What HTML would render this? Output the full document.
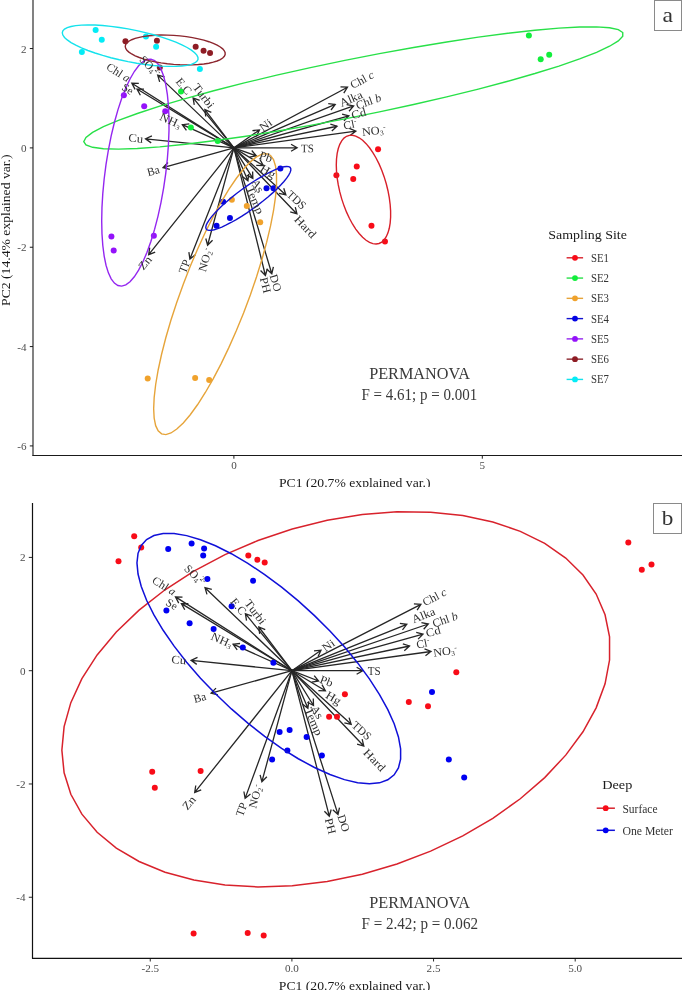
<!DOCTYPE html>
<html><head><meta charset="utf-8"><title>PCA biplots</title>
<style>html,body{margin:0;padding:0;background:#fff;}body{width:685px;height:990px;overflow:hidden;}svg{display:block;will-change:transform;}</style>
</head><body>
<svg width="685" height="990" viewBox="0 0 685 990" font-family="&quot;Liberation Serif&quot;, serif">
<rect width="685" height="990" fill="#ffffff"/>
<g fill="none" stroke="#262626" stroke-width="1.30"><path d="M233.90,147.90 L297.10,147.80 M291.03,144.31 L297.10,147.80 L291.04,151.31"/><path d="M233.90,147.90 L355.86,131.06 M349.38,128.42 L355.86,131.06 L350.34,135.36"/><path d="M233.90,147.90 L256.30,155.80 M251.75,150.48 L256.30,155.80 L249.42,157.08"/><path d="M233.90,147.90 L263.27,165.53 M259.88,159.41 L263.27,165.53 L256.27,165.41"/><path d="M233.90,147.90 L252.84,178.42 M252.62,171.42 L252.84,178.42 L246.67,175.11"/><path d="M233.90,147.90 L247.93,180.79 M248.77,173.84 L247.93,180.79 L242.33,176.58"/><path d="M233.90,147.90 L285.89,194.90 M283.74,188.24 L285.89,194.90 L279.05,193.44"/><path d="M233.90,147.90 L296.94,213.93 M295.29,207.13 L296.94,213.93 L290.22,211.97"/><path d="M233.90,147.90 L271.80,273.70 M273.40,266.89 L271.80,273.70 L266.70,268.91"/><path d="M233.90,147.90 L265.40,275.50 M267.35,268.78 L265.40,275.50 L260.55,270.45"/><path d="M233.90,147.90 L207.60,245.24 M212.56,240.30 L207.60,245.24 L205.80,238.48"/><path d="M233.90,147.90 L189.90,259.00 M195.39,254.65 L189.90,259.00 L188.88,252.07"/><path d="M233.90,147.90 L148.67,254.62 M155.19,252.07 L148.67,254.62 L149.72,247.70"/><path d="M233.90,147.90 L163.05,167.54 M169.83,169.30 L163.05,167.54 L167.96,162.55"/><path d="M233.90,147.90 L145.52,138.78 M151.19,142.88 L145.52,138.78 L151.91,135.92"/><path d="M233.90,147.90 L182.34,124.66 M186.43,130.34 L182.34,124.66 L189.31,123.96"/><path d="M233.90,147.90 L204.88,109.58 M205.75,116.52 L204.88,109.58 L211.33,112.30"/><path d="M233.90,147.90 L193.13,97.91 M194.25,104.82 L193.13,97.91 L199.67,100.40"/><path d="M233.90,147.90 L157.71,75.11 M159.67,81.83 L157.71,75.11 L164.51,76.77"/><path d="M233.90,147.90 L131.84,83.18 M135.08,89.38 L131.84,83.18 L138.83,83.47"/><path d="M233.90,147.90 L137.01,89.06 M140.38,95.20 L137.01,89.06 L144.01,89.21"/><path d="M233.90,147.90 L259.42,129.92 M252.44,130.55 L259.42,129.92 L256.48,136.28"/><path d="M233.90,147.90 L347.50,87.20 M340.50,86.97 L347.50,87.20 L343.80,93.14"/><path d="M233.90,147.90 L335.20,104.40 M328.25,103.58 L335.20,104.40 L331.01,110.01"/><path d="M233.90,147.90 L353.60,105.90 M346.72,104.60 L353.60,105.90 L349.04,111.21"/><path d="M233.90,147.90 L348.85,115.80 M342.07,114.06 L348.85,115.80 L343.95,120.81"/><path d="M233.90,147.90 L337.01,126.24 M330.36,124.06 L337.01,126.24 L331.80,130.91"/></g>
<circle cx="336.40" cy="175.26" r="3.00" fill="#f80c18"/><circle cx="378.05" cy="149.22" r="3.00" fill="#f80c18"/><circle cx="353.23" cy="179.12" r="3.00" fill="#f80c18"/><circle cx="356.74" cy="166.49" r="3.00" fill="#f80c18"/><circle cx="371.47" cy="225.86" r="3.00" fill="#f80c18"/><circle cx="384.97" cy="241.56" r="3.00" fill="#f80c18"/>
<circle cx="528.86" cy="35.56" r="3.00" fill="#12ee3c"/><circle cx="549.20" cy="54.68" r="3.00" fill="#12ee3c"/><circle cx="540.70" cy="59.33" r="3.00" fill="#12ee3c"/><circle cx="181.03" cy="91.42" r="3.00" fill="#12ee3c"/><circle cx="190.85" cy="127.47" r="3.00" fill="#12ee3c"/><circle cx="217.68" cy="140.88" r="3.00" fill="#12ee3c"/>
<circle cx="147.71" cy="378.45" r="3.00" fill="#f0a22c"/><circle cx="195.15" cy="377.92" r="3.00" fill="#f0a22c"/><circle cx="209.17" cy="380.03" r="3.00" fill="#f0a22c"/><circle cx="231.88" cy="199.81" r="3.00" fill="#f0a22c"/><circle cx="246.79" cy="205.95" r="3.00" fill="#f0a22c"/><circle cx="260.20" cy="222.26" r="3.00" fill="#f0a22c"/>
<circle cx="280.37" cy="168.51" r="3.00" fill="#0303e4"/><circle cx="266.52" cy="188.33" r="3.00" fill="#0303e4"/><circle cx="273.44" cy="188.33" r="3.00" fill="#0303e4"/><circle cx="223.12" cy="201.66" r="3.00" fill="#0303e4"/><circle cx="229.95" cy="217.97" r="3.00" fill="#0303e4"/><circle cx="216.54" cy="225.86" r="3.00" fill="#0303e4"/>
<circle cx="111.41" cy="236.47" r="3.00" fill="#9412fa"/><circle cx="113.69" cy="250.59" r="3.00" fill="#9412fa"/><circle cx="153.85" cy="235.77" r="3.00" fill="#9412fa"/><circle cx="123.86" cy="95.20" r="3.00" fill="#9412fa"/><circle cx="144.20" cy="106.33" r="3.00" fill="#9412fa"/><circle cx="165.25" cy="111.33" r="3.00" fill="#9412fa"/>
<circle cx="195.67" cy="46.79" r="3.00" fill="#8e1c24"/><circle cx="203.56" cy="50.65" r="3.00" fill="#8e1c24"/><circle cx="210.05" cy="53.10" r="3.00" fill="#8e1c24"/><circle cx="125.44" cy="41.18" r="3.00" fill="#8e1c24"/><circle cx="156.92" cy="40.83" r="3.00" fill="#8e1c24"/><circle cx="159.81" cy="67.57" r="3.00" fill="#8e1c24"/>
<circle cx="95.63" cy="30.04" r="3.00" fill="#04ecf6"/><circle cx="101.76" cy="39.86" r="3.00" fill="#04ecf6"/><circle cx="81.86" cy="51.96" r="3.00" fill="#04ecf6"/><circle cx="145.96" cy="36.44" r="3.00" fill="#04ecf6"/><circle cx="156.13" cy="46.79" r="3.00" fill="#04ecf6"/><circle cx="199.88" cy="68.98" r="3.00" fill="#04ecf6"/>
<path d="M336.29,164.95 L336.51,171.35 L337.18,178.06 L338.28,184.95 L339.79,191.92 L341.69,198.85 L343.95,205.63 L346.53,212.15 L349.38,218.29 L352.47,223.97 L355.74,229.08 L359.14,233.54 L362.61,237.28 L366.09,240.23 L369.53,242.36 L372.87,243.62 L376.05,243.99 L379.03,243.47 L381.76,242.06 L384.18,239.79 L386.26,236.70 L387.97,232.83 L389.28,228.25 L390.16,223.04 L390.61,217.28 L390.61,211.06 L390.16,204.49 L389.28,197.68 L387.97,190.73 L386.26,183.77 L384.18,176.90 L381.76,170.24 L379.03,163.89 L376.05,157.97 L372.87,152.57 L369.53,147.77 L366.09,143.66 L362.61,140.31 L359.14,137.76 L355.74,136.07 L352.47,135.25 L349.38,135.33 L346.53,136.30 L343.95,138.14 L341.69,140.83 L339.79,144.31 L338.28,148.54 L337.18,153.45 L336.51,158.95 L336.29,164.95Z" fill="none" stroke="#d8202a" stroke-width="1.4"/>
<path d="M83.76,141.64 L85.97,144.94 L92.58,147.30 L103.47,148.69 L118.47,149.09 L137.33,148.48 L159.74,146.87 L185.33,144.30 L213.68,140.81 L244.33,136.44 L276.77,131.28 L310.47,125.41 L344.88,118.92 L379.43,111.93 L413.56,104.54 L446.70,96.88 L478.31,89.07 L507.87,81.24 L534.89,73.53 L558.94,66.05 L579.62,58.93 L596.58,52.28 L609.56,46.23 L618.32,40.86 L622.74,36.26 L622.74,32.51 L618.32,29.67 L609.56,27.79 L596.58,26.89 L579.62,27.00 L558.94,28.11 L534.89,30.20 L507.87,33.24 L478.31,37.18 L446.70,41.95 L413.56,47.48 L379.43,53.67 L344.88,60.43 L310.47,67.63 L276.77,75.17 L244.33,82.92 L213.68,90.76 L185.33,98.55 L159.74,106.16 L137.33,113.47 L118.47,120.37 L103.47,126.73 L92.58,132.46 L85.97,137.45 L83.76,141.64Z" fill="none" stroke="#28e048" stroke-width="1.4"/>
<path d="M153.66,408.83 L154.17,418.27 L155.67,425.66 L158.16,430.90 L161.58,433.89 L165.87,434.58 L170.98,432.96 L176.81,429.07 L183.28,422.96 L190.26,414.73 L197.66,404.52 L205.34,392.50 L213.18,378.86 L221.06,363.83 L228.83,347.65 L236.39,330.59 L243.59,312.94 L250.33,294.97 L256.49,276.99 L261.97,259.29 L266.68,242.16 L270.55,225.89 L273.51,210.73 L275.50,196.94 L276.51,184.75 L276.51,174.35 L275.50,165.92 L273.51,159.59 L270.55,155.47 L266.68,153.62 L261.97,154.09 L256.49,156.85 L250.33,161.86 L243.59,169.04 L236.39,178.28 L228.83,189.42 L221.06,202.28 L213.18,216.64 L205.34,232.28 L197.66,248.93 L190.26,266.32 L183.28,284.17 L176.81,302.18 L170.98,320.05 L165.87,337.51 L161.58,354.24 L158.16,369.99 L155.67,384.49 L154.17,397.51 L153.66,408.83Z" fill="none" stroke="#e6a43a" stroke-width="1.4"/>
<path d="M205.77,227.45 L206.12,228.94 L207.17,229.92 L208.88,230.38 L211.25,230.32 L214.22,229.74 L217.76,228.64 L221.79,227.05 L226.27,224.99 L231.10,222.49 L236.22,219.59 L241.53,216.35 L246.96,212.82 L252.41,209.05 L257.79,205.10 L263.02,201.05 L268.00,196.95 L272.67,192.88 L276.93,188.89 L280.72,185.07 L283.98,181.46 L286.66,178.14 L288.71,175.14 L290.09,172.53 L290.79,170.35 L290.79,168.63 L290.09,167.39 L288.71,166.67 L286.66,166.46 L283.98,166.79 L280.72,167.63 L276.93,168.98 L272.67,170.81 L268.00,173.09 L263.02,175.80 L257.79,178.87 L252.41,182.26 L246.96,185.93 L241.53,189.79 L236.22,193.80 L231.10,197.88 L226.27,201.98 L221.79,206.01 L217.76,209.92 L214.22,213.65 L211.25,217.12 L208.88,220.29 L207.17,223.09 L206.12,225.50 L205.77,227.45Z" fill="none" stroke="#1212d0" stroke-width="1.4"/>
<path d="M101.70,221.05 L101.97,233.78 L102.80,245.52 L104.16,256.05 L106.03,265.21 L108.39,272.86 L111.18,278.85 L114.38,283.11 L117.92,285.55 L121.74,286.13 L125.79,284.85 L130.00,281.73 L134.30,276.82 L138.61,270.19 L142.87,261.96 L147.01,252.27 L150.95,241.27 L154.64,229.14 L158.02,216.08 L161.02,202.31 L163.60,188.05 L165.72,173.54 L167.34,159.01 L168.43,144.71 L168.99,130.86 L168.99,117.70 L168.43,105.44 L167.34,94.29 L165.72,84.42 L163.60,76.00 L161.02,69.16 L158.02,64.03 L154.64,60.67 L150.95,59.16 L147.01,59.51 L142.87,61.71 L138.61,65.74 L134.30,71.52 L130.00,78.96 L125.79,87.94 L121.74,98.31 L117.92,109.90 L114.38,122.52 L111.18,135.96 L108.39,150.00 L106.03,164.42 L104.16,178.97 L102.80,193.41 L101.97,207.52 L101.70,221.05Z" fill="none" stroke="#9426f0" stroke-width="1.4"/>
<path d="M125.24,46.40 L125.65,48.28 L126.88,50.20 L128.89,52.11 L131.67,53.99 L135.17,55.80 L139.32,57.52 L144.07,59.11 L149.32,60.56 L155.00,61.83 L161.01,62.91 L167.26,63.77 L173.64,64.41 L180.04,64.82 L186.37,64.98 L192.51,64.89 L198.37,64.56 L203.85,64.00 L208.86,63.20 L213.31,62.19 L217.15,60.97 L220.29,59.58 L222.70,58.03 L224.32,56.35 L225.14,54.56 L225.14,52.70 L224.32,50.80 L222.70,48.88 L220.29,46.98 L217.15,45.13 L213.31,43.36 L208.86,41.71 L203.85,40.18 L198.37,38.82 L192.51,37.64 L186.37,36.67 L180.04,35.92 L173.64,35.39 L167.26,35.11 L161.01,35.07 L155.00,35.28 L149.32,35.73 L144.07,36.41 L139.32,37.32 L135.17,38.43 L131.67,39.74 L128.89,41.22 L126.88,42.83 L125.65,44.57 L125.24,46.40Z" fill="none" stroke="#8c262e" stroke-width="1.4"/>
<path d="M62.30,32.86 L62.86,35.06 L64.52,37.43 L67.26,39.94 L71.04,42.54 L75.79,45.19 L81.43,47.85 L87.87,50.48 L95.00,53.02 L102.72,55.45 L110.88,57.71 L119.37,59.78 L128.03,61.62 L136.72,63.19 L145.31,64.48 L153.65,65.45 L161.61,66.11 L169.05,66.42 L175.85,66.40 L181.91,66.04 L187.11,65.34 L191.38,64.32 L194.65,62.99 L196.85,61.38 L197.97,59.51 L197.97,57.42 L196.85,55.13 L194.65,52.68 L191.38,50.12 L187.11,47.49 L181.91,44.83 L175.85,42.18 L169.05,39.59 L161.61,37.10 L153.65,34.75 L145.31,32.58 L136.72,30.63 L128.03,28.92 L119.37,27.49 L110.88,26.35 L102.72,25.53 L95.00,25.05 L87.87,24.90 L81.43,25.09 L75.79,25.63 L71.04,26.49 L67.26,27.66 L64.52,29.13 L62.86,30.88 L62.30,32.86Z" fill="none" stroke="#14e2ec" stroke-width="1.4"/>
<g><text transform="translate(307.41,152.21) rotate(-0.09) scale(0.9560,1)" font-size="11.53" text-anchor="middle" fill="#303030">TS</text><text transform="translate(374.33,134.47) rotate(-7.86) scale(1.0667,1)" font-size="11.53" text-anchor="middle" fill="#303030">NO<tspan font-size="7.15" dy="1.73">3</tspan><tspan dy="-1.73">​</tspan><tspan font-size="7.15" dy="-3.92">-</tspan><tspan dy="3.92">​</tspan></text><text transform="translate(264.60,160.39) rotate(19.43) scale(1.0740,1)" font-size="11.53" text-anchor="middle" fill="#303030">Pb</text><text transform="translate(265.99,174.65) rotate(30.97) scale(1.1134,1)" font-size="11.53" text-anchor="middle" fill="#303030">Hg</text><text transform="translate(254.48,187.66) rotate(58.18) scale(1.0604,1)" font-size="11.53" text-anchor="middle" fill="#303030">As</text><text transform="translate(251.60,201.43) rotate(66.90) scale(1.1161,1)" font-size="11.53" text-anchor="middle" fill="#303030">Temp</text><text transform="translate(293.98,202.80) rotate(42.11) scale(0.9922,1)" font-size="11.53" text-anchor="middle" fill="#303030">TDS</text><text transform="translate(302.57,229.50) rotate(46.33) scale(1.1466,1)" font-size="11.53" text-anchor="middle" fill="#303030">Hard</text><text transform="translate(271.96,283.93) rotate(73.23) scale(1.0589,1)" font-size="11.53" text-anchor="middle" fill="#303030">DO</text><text transform="translate(261.70,286.04) rotate(76.13) scale(1.1013,1)" font-size="11.53" text-anchor="middle" fill="#303030">PH</text><text transform="translate(208.77,260.82) rotate(-74.88) scale(1.0667,1)" font-size="11.53" text-anchor="middle" fill="#303030">NO<tspan font-size="7.15" dy="1.73">2</tspan><tspan dy="-1.73">​</tspan><tspan font-size="7.15" dy="-3.92">-</tspan><tspan dy="3.92">​</tspan></text><text transform="translate(188.04,267.84) rotate(-68.39) scale(1.0224,1)" font-size="11.53" text-anchor="middle" fill="#303030">TP</text><text transform="translate(147.96,265.24) rotate(-51.39) scale(1.1023,1)" font-size="11.53" text-anchor="middle" fill="#303030">Zn</text><text transform="translate(154.34,174.67) rotate(-15.50) scale(0.9805,1)" font-size="11.53" text-anchor="middle" fill="#303030">Ba</text><text transform="translate(135.40,142.09) rotate(5.89) scale(1.1022,1)" font-size="11.53" text-anchor="middle" fill="#303030">Cu</text><text transform="translate(168.99,124.16) rotate(24.26) scale(1.1026,1)" font-size="11.53" text-anchor="middle" fill="#303030">NH<tspan font-size="7.15" dy="1.73">3</tspan><tspan dy="-1.73">​</tspan></text><text transform="translate(200.58,98.36) rotate(52.86) scale(1.1008,1)" font-size="11.53" text-anchor="middle" fill="#303030">Turbi</text><text transform="translate(180.97,88.67) rotate(50.80) scale(1.0074,1)" font-size="11.53" text-anchor="middle" fill="#303030">E.C</text><text transform="translate(147.40,68.83) rotate(43.69)" font-size="11.53" text-anchor="middle" fill="#303030">SO<tspan font-size="7.15" dy="1.73">4</tspan><tspan dy="-1.73">​</tspan><tspan font-size="7.15" dy="-3.92">2-</tspan><tspan dy="3.92">​</tspan></text><text transform="translate(116.31,75.60) rotate(32.38) scale(1.0167,1)" font-size="11.53" text-anchor="middle" fill="#303030">Chl <tspan font-style="italic">a</tspan></text><text transform="translate(125.77,92.24) rotate(31.27) scale(0.9843,1)" font-size="11.53" text-anchor="middle" fill="#303030">Se</text><text transform="translate(267.95,128.00) rotate(-35.17) scale(1.1000,1)" font-size="11.53" text-anchor="middle" fill="#303030">Ni</text><text transform="translate(363.84,83.15) rotate(-28.12) scale(1.0264,1)" font-size="11.53" text-anchor="middle" fill="#303030">Chl <tspan font-style="italic">c</tspan></text><text transform="translate(352.54,102.29) rotate(-23.24) scale(1.0718,1)" font-size="11.53" text-anchor="middle" fill="#303030">Alka</text><text transform="translate(369.79,105.09) rotate(-19.33) scale(1.0251,1)" font-size="11.53" text-anchor="middle" fill="#303030">Chl <tspan font-style="italic">b</tspan></text><text transform="translate(359.65,117.37) rotate(-15.60) scale(1.1089,1)" font-size="11.53" text-anchor="middle" fill="#303030">Cd</text><text transform="translate(350.90,128.33) rotate(-11.86) scale(1.0274,1)" font-size="11.53" text-anchor="middle" fill="#303030">Cl<tspan font-size="7.15" dy="-3.92">-</tspan><tspan dy="3.92">​</tspan></text></g>
<g stroke="#1a1a1a" fill="none">
<line x1="33" y1="0" x2="33" y2="456" stroke-width="1.1"/>
<line x1="32.5" y1="455.5" x2="682" y2="455.5" stroke-width="1.1"/>
<line x1="29.8" y1="48.56" x2="33" y2="48.56" stroke-width="1"/>
<line x1="29.8" y1="147.90" x2="33" y2="147.90" stroke-width="1"/>
<line x1="29.8" y1="247.24" x2="33" y2="247.24" stroke-width="1"/>
<line x1="29.8" y1="346.58" x2="33" y2="346.58" stroke-width="1"/>
<line x1="29.8" y1="445.92" x2="33" y2="445.92" stroke-width="1"/>
<line x1="233.90" y1="456" x2="233.90" y2="458.7" stroke-width="1"/>
<line x1="482.30" y1="456" x2="482.30" y2="458.7" stroke-width="1"/>
</g>
<text transform="translate(26.50,52.56)" font-size="11.10" text-anchor="end" fill="#4d4d4d">2</text>
<text transform="translate(26.50,151.90)" font-size="11.10" text-anchor="end" fill="#4d4d4d">0</text>
<text transform="translate(26.50,251.24)" font-size="11.10" text-anchor="end" fill="#4d4d4d">-2</text>
<text transform="translate(26.50,350.58)" font-size="11.10" text-anchor="end" fill="#4d4d4d">-4</text>
<text transform="translate(26.50,449.92)" font-size="11.10" text-anchor="end" fill="#4d4d4d">-6</text>
<text transform="translate(233.90,468.90)" font-size="11.10" text-anchor="middle" fill="#4d4d4d">0</text>
<text transform="translate(482.30,468.90)" font-size="11.10" text-anchor="middle" fill="#4d4d4d">5</text>
<g fill="none" stroke="#262626" stroke-width="1.30"><path d="M291.90,670.70 L362.70,670.70 M356.64,667.20 L362.70,670.70 L356.64,674.20"/><path d="M291.90,670.70 L431.00,651.50 M424.52,648.86 L431.00,651.50 L425.47,655.80"/><path d="M291.90,670.70 L318.60,681.00 M314.20,675.55 L318.60,681.00 L311.68,682.08"/><path d="M291.90,670.70 L325.40,690.80 M322.00,684.68 L325.40,690.80 L318.40,690.68"/><path d="M291.90,670.70 L313.50,705.50 M313.28,698.50 L313.50,705.50 L307.33,702.20"/><path d="M291.90,670.70 L307.90,708.20 M308.74,701.25 L307.90,708.20 L302.30,704.00"/><path d="M291.90,670.70 L351.20,724.30 M349.05,717.64 L351.20,724.30 L344.36,722.83"/><path d="M291.90,670.70 L363.80,746.00 M362.14,739.20 L363.80,746.00 L357.08,744.03"/><path d="M291.90,670.70 L338.00,814.40 M339.48,807.56 L338.00,814.40 L332.82,809.70"/><path d="M291.90,670.70 L329.30,816.20 M331.18,809.46 L329.30,816.20 L324.40,811.20"/><path d="M291.90,670.70 L261.90,781.70 M266.86,776.76 L261.90,781.70 L260.10,774.93"/><path d="M291.90,670.70 L245.10,798.40 M250.47,793.91 L245.10,798.40 L243.90,791.50"/><path d="M291.90,670.70 L194.70,792.40 M201.22,789.85 L194.70,792.40 L195.75,785.48"/><path d="M291.90,670.70 L211.10,693.10 M217.88,694.85 L211.10,693.10 L216.01,688.11"/><path d="M291.90,670.70 L191.10,660.30 M196.77,664.40 L191.10,660.30 L197.49,657.44"/><path d="M291.90,670.70 L233.10,644.20 M237.19,649.88 L233.10,644.20 L240.06,643.50"/><path d="M291.90,670.70 L258.80,627.00 M259.67,633.95 L258.80,627.00 L265.25,629.72"/><path d="M291.90,670.70 L245.40,613.70 M246.52,620.61 L245.40,613.70 L251.94,616.18"/><path d="M291.90,670.70 L205.00,587.70 M206.97,594.42 L205.00,587.70 L211.80,589.36"/><path d="M291.90,670.70 L175.50,596.90 M178.75,603.10 L175.50,596.90 L182.49,597.19"/><path d="M291.90,670.70 L181.40,603.60 M184.77,609.74 L181.40,603.60 L188.40,603.75"/><path d="M291.90,670.70 L321.00,650.20 M314.03,650.83 L321.00,650.20 L318.06,656.55"/><path d="M291.90,670.70 L420.90,604.30 M413.91,603.96 L420.90,604.30 L417.11,610.19"/><path d="M291.90,670.70 L406.80,624.30 M399.87,623.32 L406.80,624.30 L402.49,629.82"/><path d="M291.90,670.70 L428.30,624.00 M421.43,622.65 L428.30,624.00 L423.70,629.27"/><path d="M291.90,670.70 L423.00,634.10 M416.22,632.36 L423.00,634.10 L418.10,639.10"/><path d="M291.90,670.70 L409.50,646.00 M402.85,643.82 L409.50,646.00 L404.29,650.67"/></g>
<circle cx="134.20" cy="536.30" r="3.00" fill="#f80c18"/><circle cx="141.20" cy="547.50" r="3.00" fill="#f80c18"/><circle cx="118.50" cy="561.30" r="3.00" fill="#f80c18"/><circle cx="248.30" cy="555.40" r="3.00" fill="#f80c18"/><circle cx="257.30" cy="559.80" r="3.00" fill="#f80c18"/><circle cx="264.70" cy="562.60" r="3.00" fill="#f80c18"/><circle cx="628.30" cy="542.60" r="3.00" fill="#f80c18"/><circle cx="651.50" cy="564.40" r="3.00" fill="#f80c18"/><circle cx="641.80" cy="569.70" r="3.00" fill="#f80c18"/><circle cx="152.20" cy="771.70" r="3.00" fill="#f80c18"/><circle cx="154.80" cy="787.80" r="3.00" fill="#f80c18"/><circle cx="200.60" cy="770.90" r="3.00" fill="#f80c18"/><circle cx="344.90" cy="694.20" r="3.00" fill="#f80c18"/><circle cx="408.80" cy="701.90" r="3.00" fill="#f80c18"/><circle cx="329.10" cy="716.80" r="3.00" fill="#f80c18"/><circle cx="337.00" cy="716.80" r="3.00" fill="#f80c18"/><circle cx="456.30" cy="672.20" r="3.00" fill="#f80c18"/><circle cx="428.00" cy="706.30" r="3.00" fill="#f80c18"/><circle cx="193.60" cy="933.60" r="3.00" fill="#f80c18"/><circle cx="247.70" cy="933.00" r="3.00" fill="#f80c18"/><circle cx="263.70" cy="935.40" r="3.00" fill="#f80c18"/>
<circle cx="168.20" cy="549.00" r="3.00" fill="#0000f2"/><circle cx="191.60" cy="543.60" r="3.00" fill="#0000f2"/><circle cx="204.10" cy="548.60" r="3.00" fill="#0000f2"/><circle cx="203.20" cy="555.40" r="3.00" fill="#0000f2"/><circle cx="207.40" cy="579.10" r="3.00" fill="#0000f2"/><circle cx="253.10" cy="580.70" r="3.00" fill="#0000f2"/><circle cx="166.40" cy="610.60" r="3.00" fill="#0000f2"/><circle cx="189.60" cy="623.30" r="3.00" fill="#0000f2"/><circle cx="213.60" cy="629.00" r="3.00" fill="#0000f2"/><circle cx="231.60" cy="606.30" r="3.00" fill="#0000f2"/><circle cx="242.80" cy="647.40" r="3.00" fill="#0000f2"/><circle cx="273.40" cy="662.70" r="3.00" fill="#0000f2"/><circle cx="279.60" cy="732.00" r="3.00" fill="#0000f2"/><circle cx="289.60" cy="729.90" r="3.00" fill="#0000f2"/><circle cx="306.60" cy="736.90" r="3.00" fill="#0000f2"/><circle cx="287.40" cy="750.60" r="3.00" fill="#0000f2"/><circle cx="321.90" cy="755.50" r="3.00" fill="#0000f2"/><circle cx="272.10" cy="759.60" r="3.00" fill="#0000f2"/><circle cx="432.00" cy="691.90" r="3.00" fill="#0000f2"/><circle cx="448.80" cy="759.60" r="3.00" fill="#0000f2"/><circle cx="464.20" cy="777.50" r="3.00" fill="#0000f2"/>
<path d="M61.86,750.13 L64.11,772.81 L70.83,794.28 L81.89,814.19 L97.14,832.22 L116.30,848.06 L139.07,861.46 L165.07,872.19 L193.88,880.08 L225.03,885.01 L257.99,886.88 L292.24,885.68 L327.20,881.41 L362.31,874.15 L396.99,864.02 L430.66,851.18 L462.78,835.85 L492.82,818.28 L520.29,798.75 L544.72,777.59 L565.73,755.14 L582.97,731.77 L596.15,707.87 L605.06,683.83 L609.55,660.04 L609.55,636.89 L605.06,614.77 L596.15,594.04 L582.97,575.03 L565.73,558.06 L544.72,543.41 L520.29,531.32 L492.82,521.99 L462.78,515.57 L430.66,512.16 L396.99,511.83 L362.31,514.57 L327.20,520.34 L292.24,529.06 L257.99,540.56 L225.03,554.68 L193.88,571.16 L165.07,589.75 L139.07,610.14 L116.30,631.99 L97.14,654.95 L81.89,678.63 L70.83,702.65 L64.11,726.61 L61.86,750.13Z" fill="none" stroke="#d8222c" stroke-width="1.5"/>
<path d="M136.95,562.89 L138.03,574.03 L141.26,586.55 L146.59,600.26 L153.93,614.92 L163.15,630.30 L174.12,646.14 L186.63,662.19 L200.50,678.18 L215.50,693.84 L231.37,708.92 L247.85,723.18 L264.68,736.37 L281.59,748.29 L298.28,758.73 L314.49,767.53 L329.95,774.54 L344.41,779.64 L357.64,782.76 L369.40,783.83 L379.51,782.85 L387.81,779.82 L394.16,774.81 L398.45,767.88 L400.61,759.16 L400.61,748.79 L398.45,736.94 L394.16,723.79 L387.81,709.58 L379.51,694.53 L369.40,678.89 L357.64,662.91 L344.41,646.86 L329.95,631.00 L314.49,615.60 L298.28,600.90 L281.59,587.14 L264.68,574.56 L247.85,563.36 L231.37,553.72 L215.50,545.80 L200.50,539.73 L186.63,535.62 L174.12,533.52 L163.15,533.47 L153.93,535.48 L146.59,539.51 L141.26,545.49 L138.03,553.33 L136.95,562.89Z" fill="none" stroke="#1010d8" stroke-width="1.5"/>
<g><text transform="translate(374.15,674.91) scale(0.9560,1)" font-size="11.53" text-anchor="middle" fill="#303030">TS</text><text transform="translate(445.73,655.17) rotate(-7.86) scale(1.0667,1)" font-size="11.53" text-anchor="middle" fill="#303030">NO<tspan font-size="7.15" dy="1.73">3</tspan><tspan dy="-1.73">​</tspan><tspan font-size="7.15" dy="-3.92">-</tspan><tspan dy="3.92">​</tspan></text><text transform="translate(325.19,684.75) rotate(21.10) scale(1.0740,1)" font-size="11.53" text-anchor="middle" fill="#303030">Pb</text><text transform="translate(331.59,701.35) rotate(30.96) scale(1.1134,1)" font-size="11.53" text-anchor="middle" fill="#303030">Hg</text><text transform="translate(313.98,714.06) rotate(58.17) scale(1.0604,1)" font-size="11.53" text-anchor="middle" fill="#303030">As</text><text transform="translate(310.20,722.93) rotate(66.89) scale(1.1161,1)" font-size="11.53" text-anchor="middle" fill="#303030">Temp</text><text transform="translate(359.08,733.60) rotate(42.11) scale(0.9922,1)" font-size="11.53" text-anchor="middle" fill="#303030">TDS</text><text transform="translate(371.67,762.70) rotate(46.32) scale(1.1466,1)" font-size="11.53" text-anchor="middle" fill="#303030">Hard</text><text transform="translate(339.88,824.29) rotate(72.21) scale(1.0589,1)" font-size="11.53" text-anchor="middle" fill="#303030">DO</text><text transform="translate(326.71,826.97) rotate(75.58) scale(1.1013,1)" font-size="11.53" text-anchor="middle" fill="#303030">PH</text><text transform="translate(259.07,797.32) rotate(-74.88) scale(1.0667,1)" font-size="11.53" text-anchor="middle" fill="#303030">NO<tspan font-size="7.15" dy="1.73">2</tspan><tspan dy="-1.73">​</tspan><tspan font-size="7.15" dy="-3.92">-</tspan><tspan dy="3.92">​</tspan></text><text transform="translate(245.07,810.75) rotate(-69.87) scale(1.0224,1)" font-size="11.53" text-anchor="middle" fill="#303030">TP</text><text transform="translate(191.95,805.24) rotate(-51.39) scale(1.1023,1)" font-size="11.53" text-anchor="middle" fill="#303030">Zn</text><text transform="translate(200.74,701.37) rotate(-15.49) scale(0.9805,1)" font-size="11.53" text-anchor="middle" fill="#303030">Ba</text><text transform="translate(178.40,663.69) rotate(5.89) scale(1.1022,1)" font-size="11.53" text-anchor="middle" fill="#303030">Cu</text><text transform="translate(220.19,643.46) rotate(24.26) scale(1.1026,1)" font-size="11.53" text-anchor="middle" fill="#303030">NH<tspan font-size="7.15" dy="1.73">3</tspan><tspan dy="-1.73">​</tspan></text><text transform="translate(252.38,614.36) rotate(52.86) scale(1.1008,1)" font-size="11.53" text-anchor="middle" fill="#303030">Turbi</text><text transform="translate(235.47,608.97) rotate(50.79) scale(1.0074,1)" font-size="11.53" text-anchor="middle" fill="#303030">E.C</text><text transform="translate(192.30,577.83) rotate(43.69)" font-size="11.53" text-anchor="middle" fill="#303030">SO<tspan font-size="7.15" dy="1.73">4</tspan><tspan dy="-1.73">​</tspan><tspan font-size="7.15" dy="-3.92">2-</tspan><tspan dy="3.92">​</tspan></text><text transform="translate(162.21,589.10) rotate(32.38) scale(1.0167,1)" font-size="11.53" text-anchor="middle" fill="#303030">Chl <tspan font-style="italic">a</tspan></text><text transform="translate(169.87,607.54) rotate(31.27) scale(0.9843,1)" font-size="11.53" text-anchor="middle" fill="#303030">Se</text><text transform="translate(330.75,648.50) rotate(-35.16) scale(1.1000,1)" font-size="11.53" text-anchor="middle" fill="#303030">Ni</text><text transform="translate(436.29,600.48) rotate(-27.24) scale(1.0264,1)" font-size="11.53" text-anchor="middle" fill="#303030">Chl <tspan font-style="italic">c</tspan></text><text transform="translate(424.96,618.83) rotate(-21.99) scale(1.0718,1)" font-size="11.53" text-anchor="middle" fill="#303030">Alka</text><text transform="translate(446.27,623.20) rotate(-18.90) scale(1.0251,1)" font-size="11.53" text-anchor="middle" fill="#303030">Chl <tspan font-style="italic">b</tspan></text><text transform="translate(434.25,635.27) rotate(-15.60) scale(1.1089,1)" font-size="11.53" text-anchor="middle" fill="#303030">Cd</text><text transform="translate(423.80,647.33) rotate(-11.86) scale(1.0274,1)" font-size="11.53" text-anchor="middle" fill="#303030">Cl<tspan font-size="7.15" dy="-3.92">-</tspan><tspan dy="3.92">​</tspan></text></g>
<g stroke="#111" fill="none">
<line x1="32.5" y1="503" x2="32.5" y2="958.5" stroke-width="1.2"/>
<line x1="32" y1="958.3" x2="682" y2="958.3" stroke-width="1.2"/>
<line x1="28.8" y1="557.42" x2="32.5" y2="557.42" stroke-width="0.9"/>
<line x1="28.8" y1="670.70" x2="32.5" y2="670.70" stroke-width="0.9"/>
<line x1="28.8" y1="783.98" x2="32.5" y2="783.98" stroke-width="0.9"/>
<line x1="28.8" y1="897.26" x2="32.5" y2="897.26" stroke-width="0.9"/>
<line x1="150.25" y1="958.5" x2="150.25" y2="961.5" stroke-width="0.9"/>
<line x1="291.90" y1="958.5" x2="291.90" y2="961.5" stroke-width="0.9"/>
<line x1="433.55" y1="958.5" x2="433.55" y2="961.5" stroke-width="0.9"/>
<line x1="575.20" y1="958.5" x2="575.20" y2="961.5" stroke-width="0.9"/>
</g>
<text transform="translate(25.50,561.42)" font-size="11.10" text-anchor="end" fill="#4d4d4d">2</text>
<text transform="translate(25.50,674.70)" font-size="11.10" text-anchor="end" fill="#4d4d4d">0</text>
<text transform="translate(25.50,787.98)" font-size="11.10" text-anchor="end" fill="#4d4d4d">-2</text>
<text transform="translate(25.50,901.26)" font-size="11.10" text-anchor="end" fill="#4d4d4d">-4</text>
<text transform="translate(150.25,972.10)" font-size="11.10" text-anchor="middle" fill="#4d4d4d">-2.5</text>
<text transform="translate(291.90,972.10)" font-size="11.10" text-anchor="middle" fill="#4d4d4d">0.0</text>
<text transform="translate(433.55,972.10)" font-size="11.10" text-anchor="middle" fill="#4d4d4d">2.5</text>
<text transform="translate(575.20,972.10)" font-size="11.10" text-anchor="middle" fill="#4d4d4d">5.0</text>
<text transform="translate(279.00,486.70) scale(1.0255,1)" font-size="13.34" text-anchor="start" fill="#1a1a1a">PC1 (20.7% explained var.)</text>
<text transform="translate(278.80,989.50) scale(1.0255,1)" font-size="13.34" text-anchor="start" fill="#1a1a1a">PC1 (20.7% explained var.)</text>
<text transform="translate(9.70,305.90) rotate(-90.00) scale(1.0255,1)" font-size="13.34" text-anchor="start" fill="#1a1a1a">PC2 (14.4% explained var.)</text>
<rect x="0" y="487" width="685" height="16" fill="#ffffff"/>
<text transform="translate(419.50,379.10) scale(1.0292,1)" font-size="15.78" text-anchor="middle" fill="#3a3a3a">PERMANOVA</text>
<text transform="translate(419.30,399.90) scale(0.9513,1)" font-size="15.78" text-anchor="middle" fill="#3a3a3a">F = 4.61; p = 0.001</text>
<text transform="translate(419.55,908.00) scale(1.0281,1)" font-size="15.78" text-anchor="middle" fill="#3a3a3a">PERMANOVA</text>
<text transform="translate(419.75,928.60) scale(0.9587,1)" font-size="15.78" text-anchor="middle" fill="#3a3a3a">F = 2.42; p = 0.062</text>
<rect x="654.5" y="0.5" width="27" height="30" fill="#fff" stroke="#8a8a8a" stroke-width="1"/>
<rect x="653.5" y="503.5" width="28" height="30" fill="#fff" stroke="#8a8a8a" stroke-width="1"/>
<text transform="translate(667.80,22.20) scale(1.0777,1)" font-size="21.95" text-anchor="middle" fill="#333">a</text>
<text transform="translate(667.50,525.00) scale(1.0581,1)" font-size="21.95" text-anchor="middle" fill="#333">b</text>
<text transform="translate(548.30,239.30) scale(1.0348,1)" font-size="13.48" text-anchor="start" fill="#1a1a1a">Sampling Site</text>
<line x1="566.6" y1="257.80" x2="583.1" y2="257.80" stroke="#d8202a" stroke-width="1.4"/>
<circle cx="575" cy="257.80" r="2.9" fill="#f80c18"/>
<text transform="translate(591.00,261.80) scale(0.9389,1)" font-size="11.50" text-anchor="start" fill="#333">SE1</text>
<line x1="566.6" y1="278.07" x2="583.1" y2="278.07" stroke="#28e048" stroke-width="1.4"/>
<circle cx="575" cy="278.07" r="2.9" fill="#12ee3c"/>
<text transform="translate(591.00,282.07) scale(0.9389,1)" font-size="11.50" text-anchor="start" fill="#333">SE2</text>
<line x1="566.6" y1="298.34" x2="583.1" y2="298.34" stroke="#e6a43a" stroke-width="1.4"/>
<circle cx="575" cy="298.34" r="2.9" fill="#f0a22c"/>
<text transform="translate(591.00,302.34) scale(0.9389,1)" font-size="11.50" text-anchor="start" fill="#333">SE3</text>
<line x1="566.6" y1="318.61" x2="583.1" y2="318.61" stroke="#1212d0" stroke-width="1.4"/>
<circle cx="575" cy="318.61" r="2.9" fill="#0303e4"/>
<text transform="translate(591.00,322.61) scale(0.9389,1)" font-size="11.50" text-anchor="start" fill="#333">SE4</text>
<line x1="566.6" y1="338.88" x2="583.1" y2="338.88" stroke="#9426f0" stroke-width="1.4"/>
<circle cx="575" cy="338.88" r="2.9" fill="#9412fa"/>
<text transform="translate(591.00,342.88) scale(0.9389,1)" font-size="11.50" text-anchor="start" fill="#333">SE5</text>
<line x1="566.6" y1="359.15" x2="583.1" y2="359.15" stroke="#8c262e" stroke-width="1.4"/>
<circle cx="575" cy="359.15" r="2.9" fill="#8e1c24"/>
<text transform="translate(591.00,363.15) scale(0.9389,1)" font-size="11.50" text-anchor="start" fill="#333">SE6</text>
<line x1="566.6" y1="379.42" x2="583.1" y2="379.42" stroke="#14e2ec" stroke-width="1.4"/>
<circle cx="575" cy="379.42" r="2.9" fill="#04ecf6"/>
<text transform="translate(591.00,383.42) scale(0.9389,1)" font-size="11.50" text-anchor="start" fill="#333">SE7</text>
<text transform="translate(602.20,789.00) scale(1.0578,1)" font-size="13.48" text-anchor="start" fill="#1a1a1a">Deep</text>
<line x1="596.7" y1="808.20" x2="614.9" y2="808.20" stroke="#d8222c" stroke-width="1.5"/>
<circle cx="605.7" cy="808.20" r="2.9" fill="#f80c18"/>
<text transform="translate(622.40,812.60)" font-size="11.50" text-anchor="start" fill="#333">Surface</text>
<line x1="596.7" y1="830.30" x2="614.9" y2="830.30" stroke="#1010d8" stroke-width="1.5"/>
<circle cx="605.7" cy="830.30" r="2.9" fill="#0000f2"/>
<text transform="translate(622.40,834.70) scale(1.0225,1)" font-size="11.50" text-anchor="start" fill="#333">One Meter</text>
</svg>
</body></html>
